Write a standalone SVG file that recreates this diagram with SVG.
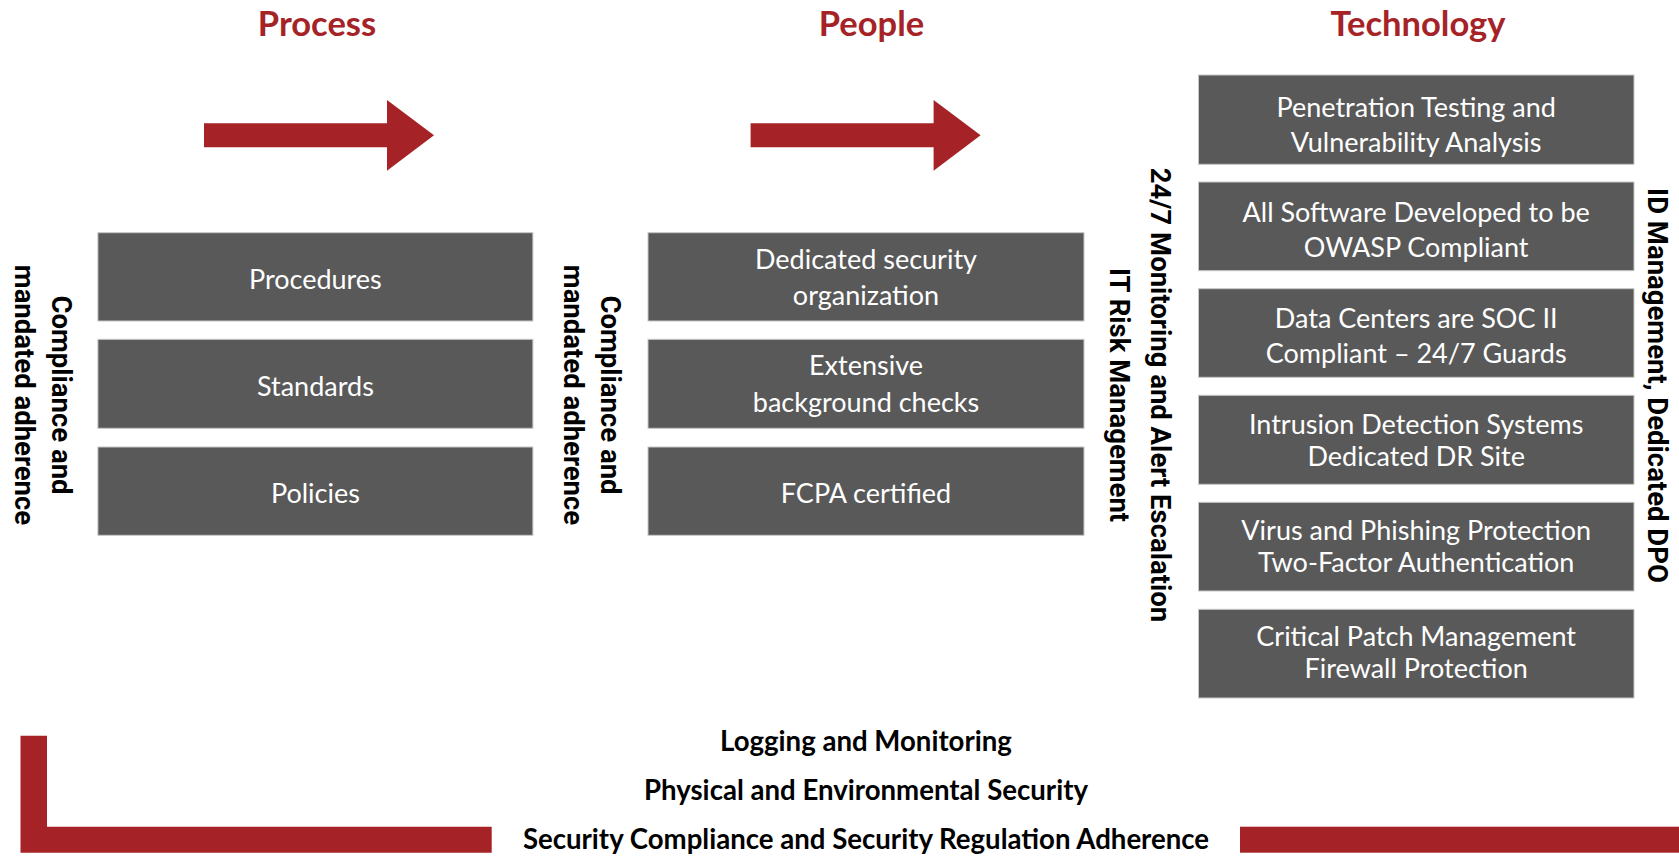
<svg xmlns="http://www.w3.org/2000/svg" width="1679" height="856" viewBox="0 0 1679 856">
<style>
.title{font-family:Lato,"Liberation Sans",sans-serif;font-weight:700;font-size:34.5px;fill:#A52327;text-anchor:middle}
.box{fill:#595959;stroke:#c8c8c8;stroke-width:1}
.bt{font-family:Lato,"Liberation Sans",sans-serif;font-size:27px;fill:#ffffff;text-anchor:middle}
.vl{font-family:Roboto,"Liberation Sans",sans-serif;font-weight:700;font-size:27.5px;fill:#000000;text-anchor:middle}
.bot{font-family:Lato,"Liberation Sans",sans-serif;font-weight:700;font-size:27.6px;fill:#000000;text-anchor:middle}
.red{fill:#A52327}
</style>
<rect width="1679" height="856" fill="#ffffff"/>

<g id="titles">
<text class="title" x="317" y="36">Process</text>
<text class="title" x="871.5" y="36">People</text>
<text class="title" x="1418" y="36">Technology</text>
</g>

<g id="connectors">
<path class="red" d="M204,123.3 H387 V100 L434,135.3 L387,170.7 V147.3 H204 Z"/>
<path class="red" d="M750.6,123.3 H933.6 V100 L980.6,135.3 L933.6,170.7 V147.3 H750.6 Z"/>
</g>

<g id="process-procedures"><rect class="box" x="97.9" y="232.7" width="435" height="88.3"/><text class="bt" x="315.4" y="288.8">Procedures</text></g>
<g id="process-standards"><rect class="box" x="97.9" y="339.3" width="435" height="89"/><text class="bt" x="315.4" y="395.8">Standards</text></g>
<g id="process-policies"><rect class="box" x="97.9" y="447" width="435" height="88.3"/><text class="bt" x="315.4" y="503.2">Policies</text></g>

<g id="people-organization"><rect class="box" x="648" y="232.7" width="436" height="88.3"/><text class="bt" x="866" y="268.5">Dedicated security</text><text class="bt" x="866" y="305">organization</text></g>
<g id="people-checks"><rect class="box" x="648" y="339.3" width="436" height="89"/><text class="bt" x="866" y="375">Extensive</text><text class="bt" x="866" y="412">background checks</text></g>
<g id="people-fcpa"><rect class="box" x="648" y="447" width="436" height="88.3"/><text class="bt" x="866" y="503.2">FCPA certified</text></g>

<g id="tech-pentest"><rect class="box" x="1198.5" y="75" width="435.5" height="89.3"/><text class="bt" x="1416.2" y="116.7">Penetration Testing and</text><text class="bt" x="1416.2" y="152">Vulnerability Analysis</text></g>
<g id="tech-owasp"><rect class="box" x="1198.5" y="182" width="435.5" height="88.7"/><text class="bt" x="1416.2" y="221.7">All Software Developed to be</text><text class="bt" x="1416.2" y="257">OWASP Compliant</text></g>
<g id="tech-soc"><rect class="box" x="1198.5" y="288.7" width="435.5" height="88.6"/><text class="bt" x="1416.2" y="327.7">Data Centers are SOC II</text><text class="bt" x="1416.2" y="363">Compliant – 24/7 Guards</text></g>
<g id="tech-ids"><rect class="box" x="1198.5" y="395.3" width="435.5" height="89"/><text class="bt" x="1416.2" y="433.7">Intrusion Detection Systems</text><text class="bt" x="1416.2" y="465.8">Dedicated DR Site</text></g>
<g id="tech-virus"><rect class="box" x="1198.5" y="502.3" width="435.5" height="88.7"/><text class="bt" x="1416.2" y="539.7">Virus and Phishing Protection</text><text class="bt" x="1416.2" y="571.8">Two-Factor Authentication</text></g>
<g id="tech-patch"><rect class="box" x="1198.5" y="609.3" width="435.5" height="88.7"/><text class="bt" x="1416.2" y="645.7">Critical Patch Management</text><text class="bt" x="1416.2" y="677.8">Firewall Protection</text></g>

<g id="label-compliance-left">
<text class="vl" transform="translate(52,395) rotate(90)">Compliance and</text>
<text class="vl" transform="translate(15,395) rotate(90)">mandated adherence</text>
</g>
<g id="label-compliance-mid">
<text class="vl" transform="translate(601,395) rotate(90)">Compliance and</text>
<text class="vl" transform="translate(564,395) rotate(90)">mandated adherence</text>
</g>
<g id="label-monitoring">
<text class="vl" transform="translate(1151,395) rotate(90)">24/7 Monitoring and Alert Escalation</text>
<text class="vl" transform="translate(1110,395) rotate(90)">IT Risk Management</text>
</g>
<g id="label-id">
<text class="vl" transform="translate(1648,385.5) rotate(90)">ID Management, Dedicated DPO</text>
</g>

<g id="foundation">
<path class="red" d="M20.5,735.7 H47 V826.7 H491.7 V852.7 H20.5 Z"/>
<rect class="red" x="1240" y="826.7" width="439" height="26"/>
<text class="bot" x="866" y="750.5">Logging and Monitoring</text>
<text class="bot" x="866" y="800">Physical and Environmental Security</text>
<text class="bot" x="866" y="849">Security Compliance and Security Regulation Adherence</text>
</g>
</svg>
